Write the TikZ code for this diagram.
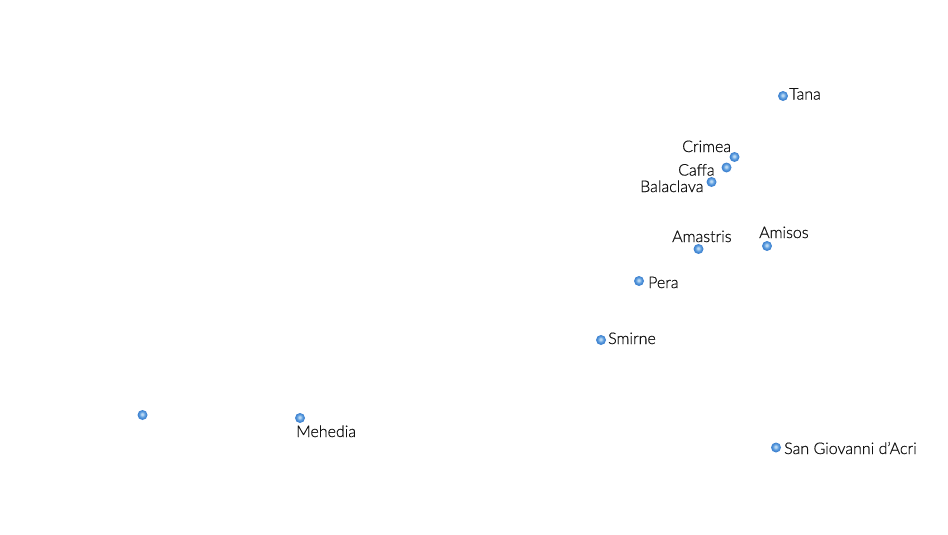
\documentclass[tikz,border=0pt]{standalone}
\usepackage{fontspec}
\setmainfont{Lato Light}[RawFeature={embolden=0.5}]
\definecolor{orbhi}{HTML}{C0DCF4}
\definecolor{orbmid}{HTML}{5E9FE0}
\definecolor{orbdeep}{HTML}{3F82D0}
\definecolor{orbrim}{HTML}{5A9ADA}
\definecolor{labink}{HTML}{111111}
\pgfdeclareradialshading{orb}{\pgfpoint{-2bp}{4bp}}{
  color(0bp)=(orbhi); color(4bp)=(orbhi); color(13bp)=(orbmid); color(22bp)=(orbdeep); color(32bp)=(orbrim); color(100bp)=(orbrim)}
\begin{document}
\begin{tikzpicture}[x=1pt,y=-1pt,
  place/.style={circle,inner sep=0pt,minimum size=10pt,draw=none,shading=orb},
  lab/.style={inner sep=0pt,anchor=base west,text=labink,font=\fontsize{16}{18}\selectfont}]
\useasboundingbox (0,0) rectangle (948,535);
\node[place] (tana) at (783,96) {};
\node[place] (crimea) at (734.5,157) {};
\node[place] (caffa) at (726.5,167.5) {};
\node[place] (balaclava) at (711.5,182) {};
\node[place] (amastris) at (698.5,249) {};
\node[place] (amisos) at (767,246) {};
\node[place] (pera) at (639,281) {};
\node[place] (smirne) at (601,340) {};
\node[place] (unnamed) at (142.5,415) {};
\node[place] (mehedia) at (300,418) {};
\node[place] (acri) at (776,447.5) {};
\node[lab] (ltana) at (789,99.5) {Tana};
\node[lab] (lcrimea) at (682,152) {Crimea};
\node[lab] (lcaffa) at (678,175.5) {Caffa};
\node[lab] (lbalaclava) at (640,192) {Balaclava};
\node[lab] (lamastris) at (672,242) {Amastris};
\node[lab] (lamisos) at (759,238) {Amisos};
\node[lab] (lpera) at (648,288) {Pera};
\node[lab] (lsmirne) at (608,344) {Smirne};
\node[lab] (lmehedia) at (296,437) {Mehedia};
\node[lab] (lacri) at (784,454) {San Giovanni d’Acri};
\end{tikzpicture}
\end{document}
